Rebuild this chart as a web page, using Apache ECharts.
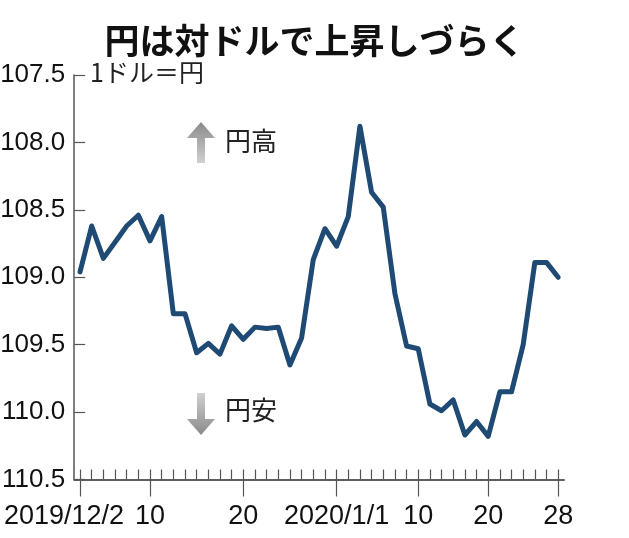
<!DOCTYPE html>
<html><head><meta charset="utf-8">
<script src="https://cdn.jsdelivr.net/npm/echarts@6/dist/echarts.min.js"></script>
<style>html,body{margin:0;padding:0;background:#fff}#c{width:629px;height:538px}</style>
</head><body><div id="c"></div>
<script>
// Trading days (weekdays) shown on the axis
const categories = [
  '2019/12/02','2019/12/03','2019/12/04','2019/12/05','2019/12/06',
  '2019/12/09','2019/12/10','2019/12/11','2019/12/12','2019/12/13',
  '2019/12/16','2019/12/17','2019/12/18','2019/12/19','2019/12/20',
  '2019/12/23','2019/12/24','2019/12/25','2019/12/26','2019/12/27',
  '2019/12/30','2019/12/31',
  '2020/01/01','2020/01/02','2020/01/03',
  '2020/01/06','2020/01/07','2020/01/08','2020/01/09','2020/01/10',
  '2020/01/13','2020/01/14','2020/01/15','2020/01/16','2020/01/17',
  '2020/01/20','2020/01/21','2020/01/22','2020/01/23','2020/01/24',
  '2020/01/27','2020/01/28'
];
// Yen per dollar
const usdJpy = [
  108.96,108.62,108.86,108.74,108.62,
  108.54,108.73,108.55,109.27,109.27,
  109.56,109.49,109.57,109.36,109.46,
  109.37,109.38,109.37,109.65,109.45,
  108.87,108.64,
  108.77,108.55,107.88,
  108.37,108.48,109.12,109.51,109.53,
  109.94,109.99,109.91,110.17,110.07,
  110.18,109.85,109.85,109.50,108.89,
  108.89,109.00
];
const tickDates  = ['2019/12/02','2019/12/10','2019/12/20','2020/01/01','2020/01/10','2020/01/20','2020/01/28'];
const tickLabels = ['2019/12/2','10','20','2020/1/1','10','20','28'];
const yTicks = [107.5,108.0,108.5,109.0,109.5,110.0,110.5];

const FONT_NUM = '"Liberation Sans Narrow","Liberation Sans",Arial,sans-serif';
const FONT_JP = '"Noto Sans CJK JP","Noto Sans CJK SC",sans-serif';
const isMajor = (i, v) => tickDates.indexOf(v) >= 0;

const chart = echarts.init(document.getElementById('c'), null, {renderer: 'canvas'});
const grayGradUp = new echarts.graphic.LinearGradient(0,0,0,1,[{offset:0,color:'#8a8a8a'},{offset:1,color:'#d0d0d0'}]);
const grayGradDown = new echarts.graphic.LinearGradient(0,0,0,1,[{offset:0,color:'#d0d0d0'},{offset:1,color:'#8a8a8a'}]);

chart.setOption({
  animation: false,
  backgroundColor: '#fff',
  title: {
    text: '円は対ドルで上昇しづらく',
    left: 'center', top: 18,
    textStyle: {fontFamily: FONT_JP, fontSize: 35, fontWeight: 'bold', color: '#111'}
  },
  grid: {left: 74.2, right: 65, top: 75, bottom: 58.5, containLabel: false, outerBoundsMode: 'none'},
  xAxis: [{
    type: 'category', data: categories, boundaryGap: true,
    axisLine: {show: true, lineStyle: {color: '#555', width: 1.5}},
    axisTick: {show: true, inside: true, length: 10, interval: 0, alignWithLabel: true, lineStyle: {color: '#555', width: 1.2}},
    axisLabel: {show: false},
    splitLine: {show: false}
  }, {
    type: 'category', data: categories, boundaryGap: true, position: 'bottom', offset: 0,
    axisLine: {show: true, lineStyle: {color: '#555', width: 1.5}},
    axisTick: {show: true, inside: false, length: 17, interval: isMajor, alignWithLabel: true, lineStyle: {color: '#555', width: 1.2}},
    axisLabel: {
      show: true, interval: isMajor, margin: 24, hideOverlap: false,
      showMinLabel: true, showMaxLabel: true,
      fontFamily: FONT_NUM, fontSize: 27, color: '#111',
      formatter: function (v) {
        const k = tickDates.indexOf(v);
        if (k < 0) return '';
        return k === 0 ? '{first|' + tickLabels[k] + '}' : tickLabels[k];
      },
      rich: {first: {fontFamily: FONT_NUM, fontSize: 27, color: '#111', padding: [0, 32, 0, 0]}}
    },
    splitLine: {show: false}
  }],
  yAxis: {
    type: 'value', inverse: true, min: yTicks[0], max: yTicks[yTicks.length - 1], interval: 0.5,
    axisLine: {show: true, lineStyle: {color: '#555', width: 1.5}},
    axisTick: {show: true, inside: true, length: 11, lineStyle: {color: '#555', width: 1.2}},
    axisLabel: {margin: 9, fontFamily: FONT_NUM, fontSize: 26, color: '#111', formatter: v => v.toFixed(1)},
    splitLine: {show: false}
  },
  series: [{
    type: 'line', data: usdJpy, xAxisIndex: 0, yAxisIndex: 0,
    symbol: 'none', smooth: false,
    lineStyle: {color: '#1f4a74', width: 5, join: 'round', cap: 'round'}
  }],
  graphic: [
    {type: 'text', left: 90, top: 60, style: {text: '1ドル＝円', fontFamily: FONT_JP, fontSize: 25, fill: '#222'}},
    {type: 'polygon', shape: {points: [[201,122],[215,138],[205,138],[205,163],[197,163],[197,138],[187,138]]}, style: {fill: grayGradUp}},
    {type: 'text', left: 225, top: 128, style: {text: '円高', fontFamily: FONT_JP, fontSize: 26, fill: '#222'}},
    {type: 'polygon', shape: {points: [[197,393],[205,393],[205,419],[215,419],[201,435],[187,419],[197,419]]}, style: {fill: grayGradDown}},
    {type: 'text', left: 225, top: 397, style: {text: '円安', fontFamily: FONT_JP, fontSize: 26, fill: '#222'}}
  ]
});
</script></body></html>
